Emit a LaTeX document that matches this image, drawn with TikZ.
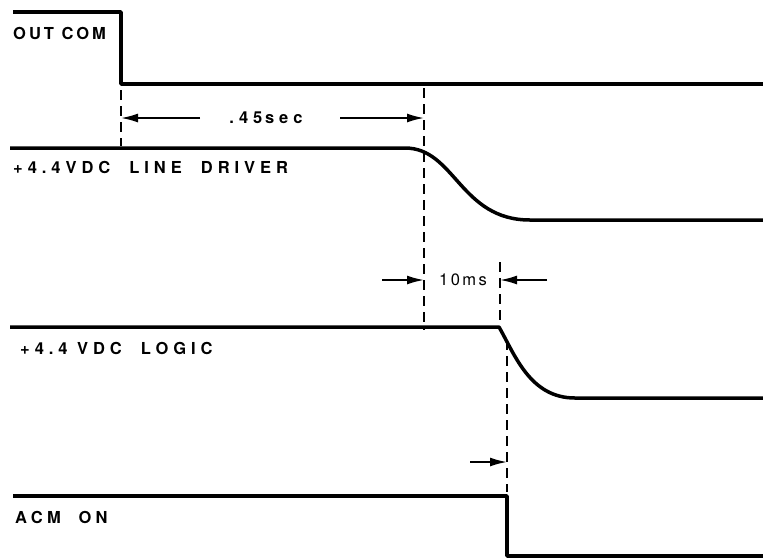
\documentclass[tikz,border=0pt]{standalone}
\usepackage{fontspec}
\setmainfont{TeX Gyre Heros}
\newfontfamily\sigfont{TeX Gyre Heros}[LetterSpace=30]
\usetikzlibrary{arrows.meta,positioning}

\begin{document}
\begin{tikzpicture}[x=1pt, y=-1pt,
    signal/.style={line width=3.5pt, line join=round},
    guide/.style={line width=1.5pt, dash pattern=on 10pt off 6pt},
    dim/.style={line width=1.8pt, -{Latex[length=17pt,width=9pt]}},
    lbl/.style={anchor=west, inner sep=0pt, font=\sigfont\bfseries\fontsize{16.5}{16.5}\selectfont}]
    \useasboundingbox (0,0) rectangle (763,558);

    % signal names
    \node [lbl] (outcom) at (13,33) {\addfontfeature{LetterSpace=18}OUT COM};
    \node [lbl] (driver) at (13,167) {+4.4VDC~~LINE~~DRIVER};
    \node [lbl] (logic) at (20,348) {+4.4~VDC~~LOGIC};
    \node [lbl] (acmon) at (15,517) {\addfontfeature{LetterSpace=26}ACM~~ON};

    % edges of the waveforms
    \coordinate (oc) at (121,84);
    \coordinate (ld) at (424,148);
    \coordinate (lg) at (499,327);
    \coordinate (ac) at (507,496);

    % waveforms
    \draw [signal] (13,12) -| (oc) -- (763,84);
    \draw [signal] (10,148) -- (405,148) .. controls (455,148) and (460,220) .. (530,220) -- (763,220);
    \draw [signal] (10,327) -- (lg) .. controls (515,355) and (530,398) .. (575,398) -- (763,398);
    \draw [signal] (13,496) -- (ac) |- (763,556);

    % dashed guides
    \draw [guide] (121,90) -- (121,146);
    \draw [guide] (ld |- 0,88) -- (424,330);
    \draw [guide] (500,262) -- (500,325);
    \draw [guide] (507,340) -- (507,492);

    % timing marks
    \node [font=\sigfont\bfseries\fontsize{16.5}{16.5}\selectfont] (sec) at (266,118) {.45\,sec};
    \node [font=\sigfont\fontsize{16.5}{16.5}\selectfont] (ms) at (463,280) {\addfontfeature{LetterSpace=15}10ms};
    \coordinate (s1) at (200,118);
    \coordinate (s2) at (340,118);
    \coordinate (m1) at (382,280);
    \coordinate (m2) at (547,280);
    \coordinate (a1) at (470,462);
    \draw [dim] (s1) -- (121,118);
    \draw [dim] (s2) -- (424,118);
    \draw [dim] (m1) -- (424,280);
    \draw [dim] (m2) -- (500,280);
    \draw [dim] (a1) -- (507,462);
\end{tikzpicture}
\end{document}
